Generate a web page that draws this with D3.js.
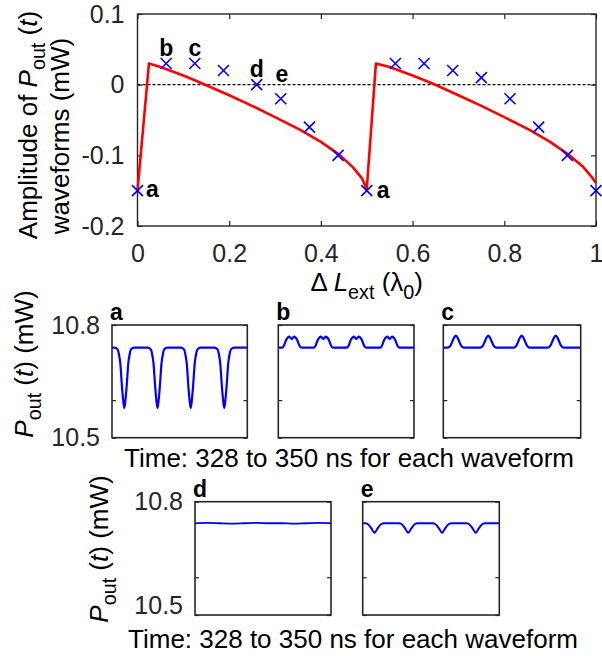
<!DOCTYPE html>
<html><head><meta charset="utf-8">
<script src="https://cdn.jsdelivr.net/npm/d3@7"></script>
<style>
body{margin:0;background:#fff;}
svg{display:block;font-family:"Liberation Sans",Arial,Helvetica,sans-serif;}
</style></head><body>
<svg id="chart" width="602" height="656"></svg>
<script>
// ---------------- DATA ----------------
// top chart: measured amplitudes (crosses)
const sweepX = [0, 0.0625, 0.125, 0.1875, 0.26, 0.3125, 0.375, 0.4375, 0.5, 0.5625, 0.625, 0.6875, 0.75, 0.8125, 0.875, 0.9375, 1];
const sweepY = [-0.15, 0.03, 0.03, 0.02, 0, -0.02, -0.06, -0.1, -0.15, 0.03, 0.03, 0.02, 0.01, -0.02, -0.06, -0.1, -0.15];
const pointLabels = ["a", "b", "c", "", "d", "e", "", "", "a", "", "", "", "", "", "", "", ""];
// top chart: model curve (red)
const fitX = [0, 0.025, 0.05, 0.1, 0.144, 0.2, 0.25, 0.3, 0.355, 0.4, 0.44, 0.47, 0.49, 0.5,
              0.52, 0.55, 0.6, 0.646, 0.7, 0.75, 0.8, 0.855, 0.9, 0.94, 0.97, 0.99, 1.0];
const fitY = [-0.15, 0.03, 0.025, 0.013, 0.001, -0.015, -0.03, -0.046, -0.064, -0.081, -0.099, -0.117, -0.133, -0.148,
              0.03, 0.025, 0.013, 0.001, -0.015, -0.03, -0.046, -0.064, -0.081, -0.099, -0.115, -0.13, -0.139];
const xTicks = [0, 0.2, 0.4, 0.6, 0.8, 1];
const yTicks = [-0.2, -0.1, 0, 0.1];

// waveforms (time in ns, power in mW)
const waveA_t = [328, 328.4, 328.9, 329.15, 329.35, 329.62, 329.85, 330.0, 330.15, 330.38, 330.65, 330.85, 331.1, 331.6,
  333.8, 334.3, 334.55, 334.75, 335.02, 335.25, 335.4, 335.55, 335.78, 336.05, 336.25, 336.5, 337.0,
  339.2, 339.7, 339.95, 340.15, 340.42, 340.65, 340.8, 340.95, 341.18, 341.45, 341.65, 341.9, 342.4,
  344.65, 345.15, 345.4, 345.6, 345.87, 346.1, 346.25, 346.4, 346.63, 346.9, 347.1, 347.35, 347.85, 350];
const waveA_p = [10.74, 10.74, 10.735, 10.72, 10.698, 10.636, 10.595, 10.579, 10.595, 10.636, 10.698, 10.72, 10.735, 10.74,
  10.74, 10.735, 10.72, 10.698, 10.636, 10.595, 10.579, 10.595, 10.636, 10.698, 10.72, 10.735, 10.74,
  10.74, 10.735, 10.72, 10.698, 10.636, 10.595, 10.579, 10.595, 10.636, 10.698, 10.72, 10.735, 10.74,
  10.74, 10.735, 10.72, 10.698, 10.636, 10.595, 10.579, 10.595, 10.636, 10.698, 10.72, 10.735, 10.74, 10.74];

const waveB_t = [328, 328.67, 328.97, 329.27, 329.57, 329.77, 329.97, 330.17, 330.37, 330.57, 330.77, 331.07, 331.37, 331.72,
  333.8, 334.1, 334.4, 334.7, 334.9, 335.1, 335.3, 335.5, 335.7, 335.9, 336.2, 336.5, 336.85,
  339.15, 339.45, 339.75, 340.05, 340.25, 340.45, 340.65, 340.85, 341.05, 341.25, 341.55, 341.85, 342.2,
  344.56, 344.86, 345.16, 345.46, 345.66, 345.86, 346.06, 346.26, 346.46, 346.66, 346.96, 347.26, 347.61, 350];
const waveB_p = [10.74, 10.74, 10.747, 10.76, 10.767, 10.769, 10.766, 10.763, 10.766, 10.769, 10.767, 10.76, 10.747, 10.74,
  10.74, 10.747, 10.76, 10.767, 10.769, 10.766, 10.763, 10.766, 10.769, 10.767, 10.76, 10.747, 10.74,
  10.74, 10.747, 10.76, 10.767, 10.769, 10.766, 10.763, 10.766, 10.769, 10.767, 10.76, 10.747, 10.74,
  10.74, 10.747, 10.76, 10.767, 10.769, 10.766, 10.763, 10.766, 10.769, 10.767, 10.76, 10.747, 10.74, 10.74];

const waveC_t = [328, 328.75, 329.15, 329.5, 329.78, 330.0, 330.22, 330.5, 330.85, 331.25,
  333.95, 334.35, 334.7, 334.98, 335.2, 335.42, 335.7, 336.05, 336.45,
  339.3, 339.7, 340.05, 340.33, 340.55, 340.77, 341.05, 341.4, 341.8,
  344.75, 345.15, 345.5, 345.78, 346.0, 346.22, 346.5, 346.85, 347.25, 350];
const waveC_p = [10.74, 10.74, 10.745, 10.758, 10.768, 10.772, 10.768, 10.758, 10.745, 10.74,
  10.74, 10.745, 10.758, 10.768, 10.772, 10.768, 10.758, 10.745, 10.74,
  10.74, 10.745, 10.758, 10.768, 10.772, 10.768, 10.758, 10.745, 10.74,
  10.74, 10.745, 10.758, 10.768, 10.772, 10.768, 10.758, 10.745, 10.74, 10.74];

const waveD_t = [328, 330, 332, 334, 336, 338, 340, 342, 344, 346, 348, 350];
const waveD_p = [10.743, 10.744, 10.743, 10.742, 10.743, 10.744, 10.743, 10.743, 10.742, 10.743, 10.744, 10.743];

const waveE_t = [328, 328.4, 328.8, 329.1, 329.45, 329.75, 329.9, 330.05, 330.35, 330.7, 331.0, 331.4,
  333.83, 334.23, 334.53, 334.88, 335.18, 335.33, 335.48, 335.78, 336.13, 336.43, 336.83,
  339.28, 339.68, 339.98, 340.33, 340.63, 340.78, 340.93, 341.23, 341.58, 341.88, 342.28,
  344.7, 345.1, 345.4, 345.75, 346.05, 346.2, 346.35, 346.65, 347.0, 347.3, 347.7, 350];
const waveE_p = [10.743, 10.743, 10.741, 10.736, 10.728, 10.72, 10.718, 10.72, 10.728, 10.736, 10.741, 10.743,
  10.743, 10.741, 10.736, 10.728, 10.72, 10.718, 10.72, 10.728, 10.736, 10.741, 10.743,
  10.743, 10.741, 10.736, 10.728, 10.72, 10.718, 10.72, 10.728, 10.736, 10.741, 10.743,
  10.743, 10.741, 10.736, 10.728, 10.72, 10.718, 10.72, 10.728, 10.736, 10.741, 10.743, 10.743];

const timeDomain = [328, 350];
const powerDomain = [10.5, 10.8];
const powerTicks = [10.5, 10.6, 10.8];
const powerTickLabels = ["10.5", "", "10.8"];
const waveNames = ["a", "b", "c", "d", "e"];
const timeCaption = "Time: 328 to 350 ns for each waveform";

// ---------------- DRAW ----------------
const svg = d3.select("#chart");
const AX = "#262626";
const TICKFS = 25, LABFS = 26, LETTERFS = 23;

function rich(sel, parts, size) {
  let shift = 0;
  parts.forEach(p => {
    const ts = sel.append("tspan").text(p.t);
    if (p.it) ts.attr("font-style", "italic");
    const target = p.sub ? size * 0.32 : 0;
    const dy = target - shift;
    if (dy) ts.attr("dy", dy);
    shift = target;
    if (p.sub) ts.attr("font-size", size * 0.76);
  });
}

function styleAxis(g, labels) {
  g.select(".domain").remove();
  g.selectAll(".tick line").attr("stroke", AX).attr("stroke-width", 1.2);
  g.selectAll(".tick text").attr("fill", AX).attr("font-size", TICKFS)
    .attr("font-family", "'Liberation Sans',Arial,sans-serif");
  if (!labels) g.selectAll(".tick text").remove();
}
const fmt = d => String(d);

// ---- top chart ----
const L = 137.5, R = 596, T = 14, B = 226;
const x = d3.scaleLinear().domain([0, 1]).range([L, R]);
const y = d3.scaleLinear().domain([-0.2, 0.1]).range([B, T]);
const topG = svg.append("g");

topG.append("line").attr("x1", x(0)).attr("x2", x(1)).attr("y1", y(0)).attr("y2", y(0))
  .attr("stroke", "#000").attr("stroke-width", 1.3).attr("stroke-dasharray", "3,2");

topG.append("g").attr("transform", `translate(0,${B})`)
  .call(d3.axisBottom(x).tickValues(xTicks).tickFormat(fmt).tickSize(-5).tickPadding(18))
  .call(g => styleAxis(g, true));
topG.append("g").attr("transform", `translate(0,${T})`)
  .call(d3.axisTop(x).tickValues(xTicks).tickSize(-5)).call(g => styleAxis(g, false));
topG.append("g").attr("transform", `translate(${L},0)`)
  .call(d3.axisLeft(y).tickValues(yTicks).tickFormat(fmt).tickSize(-5).tickPadding(13))
  .call(g => styleAxis(g, true));
topG.append("g").attr("transform", `translate(${R},0)`)
  .call(d3.axisRight(y).tickValues(yTicks).tickSize(-5)).call(g => styleAxis(g, false));
topG.append("rect").attr("x", L).attr("y", T).attr("width", R - L).attr("height", B - T)
  .attr("fill", "none").attr("stroke", AX).attr("stroke-width", 1.4);

// red model line
topG.append("path").datum(fitX.map((v, i) => [v, fitY[i]]))
  .attr("d", d3.line().x(d => x(d[0])).y(d => y(d[1])))
  .attr("fill", "none").attr("stroke", "#ff0000").attr("stroke-width", 2.6).attr("stroke-linejoin", "round");

// crosses
const cs = 5.5;
topG.selectAll("path.cross").data(sweepX.map((v, i) => [v, sweepY[i]])).enter().append("path")
  .attr("class", "cross")
  .attr("d", `M${-cs},${-cs}L${cs},${cs}M${-cs},${cs}L${cs},${-cs}`)
  .attr("transform", d => `translate(${x(d[0])},${y(d[1])})`)
  .attr("stroke", "#0000ff").attr("stroke-width", 1.6).attr("fill", "none");

// point letters
const letterOffsets = {0: [8.5, 6, "start"], 1: [0, -7.5, "middle"], 2: [0, -7.5, "middle"], 4: [0, -8, "middle"], 5: [1, -16.5, "middle"], 8: [10, 7, "start"]};
sweepX.forEach((v, i) => {
  if (!pointLabels[i]) return;
  const o = letterOffsets[i];
  topG.append("text").attr("x", x(v) + o[0]).attr("y", y(sweepY[i]) + o[1])
    .attr("text-anchor", o[2]).attr("font-weight", "bold").attr("font-size", LETTERFS).text(pointLabels[i]);
});

// axis labels
const xl = topG.append("text").attr("x", (L + R) / 2).attr("y", 291).attr("text-anchor", "middle")
  .attr("font-size", LABFS).attr("fill", "#000");
rich(xl, [{t: "Δ "}, {t: "L", it: true}, {t: "ext", sub: true}, {t: " (λ"}, {t: "0", sub: true}, {t: ")"}], LABFS);

const yl1 = topG.append("text").attr("transform", "translate(37,125) rotate(-90)").attr("text-anchor", "middle")
  .attr("font-size", LABFS).attr("fill", "#000");
rich(yl1, [{t: "Amplitude of "}, {t: "P", it: true}, {t: "out", sub: true}, {t: " ("}, {t: "t", it: true}, {t: ")"}], LABFS);
topG.append("text").attr("transform", "translate(69,136) rotate(-90)").attr("text-anchor", "middle")
  .attr("font-size", LABFS).attr("fill", "#000").text("waveforms (mW)");

// ---- waveform panels ----
const panels = [
  {x0: 112, x1: 247.3, y0: 325, y1: 437.7, t: waveA_t, p: waveA_p, lw: 2.2},
  {x0: 278.3, x1: 414, y0: 325, y1: 437.7, t: waveB_t, p: waveB_p, lw: 2.2},
  {x0: 443.3, x1: 580.7, y0: 325, y1: 437.7, t: waveC_t, p: waveC_p, lw: 2.2},
  {x0: 195, x1: 331, y0: 501.7, y1: 615, t: waveD_t, p: waveD_p, lw: 1.8},
  {x0: 362.7, x1: 499.3, y0: 501.7, y1: 615, t: waveE_t, p: waveE_p, lw: 2.0}
];
panels.forEach((pn, k) => {
  const g = svg.append("g");
  const tx = d3.scaleLinear().domain(timeDomain).range([pn.x0, pn.x1]);
  const py = d3.scaleLinear().domain(powerDomain).range([pn.y1, pn.y0]);
  const firstInRow = (k === 0 || k === 3);
  const ax = g.append("g").attr("transform", `translate(${pn.x0},0)`)
    .call(d3.axisLeft(py).tickValues(powerTicks).tickFormat((d, i) => firstInRow ? powerTickLabels[i] : "")
      .tickSize(-4).tickPadding(12))
    .call(gg => styleAxis(gg, firstInRow));
  if (k === 3) ax.selectAll(".tick text").filter(d => d === 10.5).attr("dy", "-0.05em");
  g.append("g").attr("transform", `translate(${pn.x1},0)`)
    .call(d3.axisRight(py).tickValues(powerTicks).tickSize(-4)).call(gg => styleAxis(gg, false));
  g.append("path").datum(pn.t.map((v, i) => [v, pn.p[i]]))
    .attr("d", d3.line().x(d => tx(d[0])).y(d => py(d[1])).curve(d3.curveMonotoneX))
    .attr("fill", "none").attr("stroke", "#0000ff").attr("stroke-width", pn.lw).attr("stroke-linejoin", "round");
  g.append("rect").attr("x", pn.x0).attr("y", pn.y0).attr("width", pn.x1 - pn.x0).attr("height", pn.y1 - pn.y0)
    .attr("fill", "none").attr("stroke", AX).attr("stroke-width", 1.6);
  g.append("text").attr("x", pn.x0 - 2).attr("y", pn.y0 - 5).attr("font-weight", "bold")
    .attr("font-size", LETTERFS).text(waveNames[k]);
});

// row y labels
[[33, 364], [108, 549]].forEach(pos => {
  const t = svg.append("text").attr("transform", `translate(${pos[0]},${pos[1]}) rotate(-90)`)
    .attr("text-anchor", "middle").attr("font-size", LABFS).attr("fill", "#000");
  rich(t, [{t: "P", it: true}, {t: "out", sub: true}, {t: " ("}, {t: "t", it: true}, {t: ") (mW)"}], LABFS);
});
// captions
svg.append("text").attr("x", 349).attr("y", 467).attr("text-anchor", "middle").attr("font-size", LABFS).text(timeCaption);
svg.append("text").attr("x", 353).attr("y", 648).attr("text-anchor", "middle").attr("font-size", LABFS).text(timeCaption);
</script>
</body></html>
